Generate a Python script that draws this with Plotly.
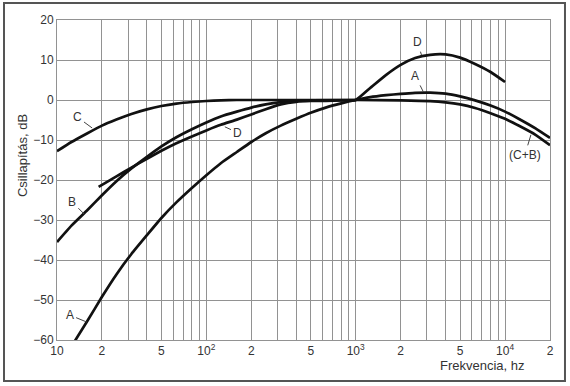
import math
import plotly.graph_objects as go

# ---- data ----
freq_A = [12.5, 16, 20, 25, 31.5, 40, 50, 63, 80, 100, 125, 160, 200, 250, 315, 400, 500,
          630, 800, 1000, 1250, 1600, 2000, 2500, 3150, 4000, 5000, 6300, 8000, 10000, 12500, 16000, 20000]
db_A = [-61.6, -55.2, -49.2, -43.6, -38.5, -33.8, -29.5, -25.6, -22.0, -18.8, -15.8, -13.0, -10.5, -8.3, -6.4,
        -4.7, -3.2, -1.9, -0.85, 0, 0.7, 1.2, 1.55, 1.8, 1.85, 1.6, 0.9, -0.1, -1.4, -2.9, -4.8, -7.1, -9.5]

freq_B = [10, 12.5, 16, 20, 25, 31.5, 40, 50, 63, 80, 100, 125, 160, 200, 250, 315, 400, 500, 1000]
db_B = [-35.5, -31.4, -27.5, -23.8, -20.3, -17.1, -14.2, -11.6, -9.3, -7.3, -5.6, -4.1, -2.9, -1.9, -1.1,
        -0.55, -0.25, -0.1, 0]

freq_C = [10, 12.5, 16, 20, 25, 31.5, 40, 50, 63, 80, 100, 125, 160, 200, 500, 1000, 2000, 3150, 4000,
          5000, 6300, 8000, 10000, 12500, 16000, 20000]
db_C = [-12.8, -10.5, -8.3, -6.4, -4.9, -3.5, -2.35, -1.5, -0.9, -0.5, -0.25, -0.1, 0, 0, 0, 0, -0.1, -0.3,
        -0.6, -1.1, -2.0, -3.3, -4.7, -6.5, -8.7, -11.3]

freq_D = [19, 25, 31.5, 40, 50, 63, 80, 100, 125, 160, 200, 250, 315, 400, 500, 630, 800, 1000, 1250, 1600,
          2000, 2500, 3150, 4000, 5000, 6300, 8000, 10000]
db_D = [-21.7, -19.1, -16.9, -14.7, -12.7, -10.8, -9.1, -7.6, -6.2, -4.9, -3.6, -2.3, -1.1, -0.45, -0.25,
        -0.2, -0.1, 0, 3.0, 6.3, 8.8, 10.5, 11.3, 11.4, 10.6, 9.0, 7.0, 4.5]

grid_freqs = [10, 20, 30, 40, 50, 60, 70, 80, 90, 100, 200, 300, 400, 500, 600, 700, 800, 900,
              1000, 2000, 3000, 4000, 5000, 6000, 7000, 8000, 9000, 10000, 20000]
tick_labels = {10: "10", 20: "2", 50: "5", 100: "10<sup>2</sup>", 200: "2", 500: "5",
               1000: "10<sup>3</sup>", 2000: "2", 5000: "5", 10000: "10<sup>4</sup>", 20000: "2"}
y_ticks = [20, 10, 0, -10, -20, -30, -40, -50, -60]

# curve labels: (text, tip frequency, tip dB, text offset x px, text offset y px)
curve_labels = [
    ("A", 15.8, -55.5, -17, -7),
    ("B", 15.2, -28.5, -12, -12),
    ("C", 17.2, -7.0, -15, -11),
    ("D", 133, -6.7, 13, 6),
    ("D", 2760, 11.2, -4, -13),
    ("A", 2840, 2.0, -8, -16),
    ("(C+B)", 14900, -8.7, -6, 20),
]

ink = "#111111"
grid = "#929292"
font = "Liberation Sans, Arial, sans-serif"

fig = go.Figure()
for fx, fy in [(freq_A, db_A), (freq_B, db_B), (freq_C, db_C), (freq_D, db_D)]:
    fig.add_trace(go.Scatter(x=fx, y=fy, mode="lines",
                             line=dict(color=ink, width=2.7, shape="spline", smoothing=0.5),
                             showlegend=False, hoverinfo="skip"))

for text, f, d, ax, ay in curve_labels:
    fig.add_annotation(x=math.log10(f), y=d, xref="x", yref="y", text=text,
                       showarrow=True, arrowhead=0, arrowwidth=1, arrowcolor="#444",
                       ax=ax, ay=ay, standoff=0, startstandoff=1,
                       font=dict(family=font, size=12, color="#333"))

fig.add_annotation(x=-0.071, y=0.578, xref="paper", yref="paper", text="Csillapítás, dB",
                   xanchor="center", yanchor="middle",
                   textangle=-90, showarrow=False, font=dict(family=font, size=13, color="#333"))
fig.add_annotation(x=0.864, y=-0.08, xref="paper", yref="paper", text="Frekvencia, hz",
                   xanchor="center", yanchor="middle",
                   showarrow=False, font=dict(family=font, size=13, color="#333"))

# outer frame
fig.add_shape(type="rect", xref="paper", yref="paper", x0=-0.1075, x1=1.0304, y0=-0.128, y1=1.053,
              line=dict(color="#555", width=2))

fig.update_xaxes(type="log", range=[1, math.log10(20000)],
                 tickvals=grid_freqs, ticktext=[tick_labels.get(v, "") for v in grid_freqs],
                 showgrid=True, gridcolor=grid, gridwidth=1, zeroline=False,
                 showline=True, linecolor=grid, linewidth=1, mirror=True,
                 ticks="", tickfont=dict(family=font, size=12, color="#333"))
fig.update_yaxes(range=[-60, 20], tickvals=y_ticks,
                 showgrid=True, gridcolor=grid, gridwidth=1, zeroline=False,
                 showline=True, linecolor=grid, linewidth=1, mirror=True,
                 ticks="", tickfont=dict(family=font, size=12, color="#333"))

fig.update_layout(width=570, height=386, margin=dict(l=57, r=20, t=20, b=46),
                  plot_bgcolor="white", paper_bgcolor="white")

fig.write_html("out.html", config={"displayModeBar": False},
               post_script="document.body.style.margin='0';")
